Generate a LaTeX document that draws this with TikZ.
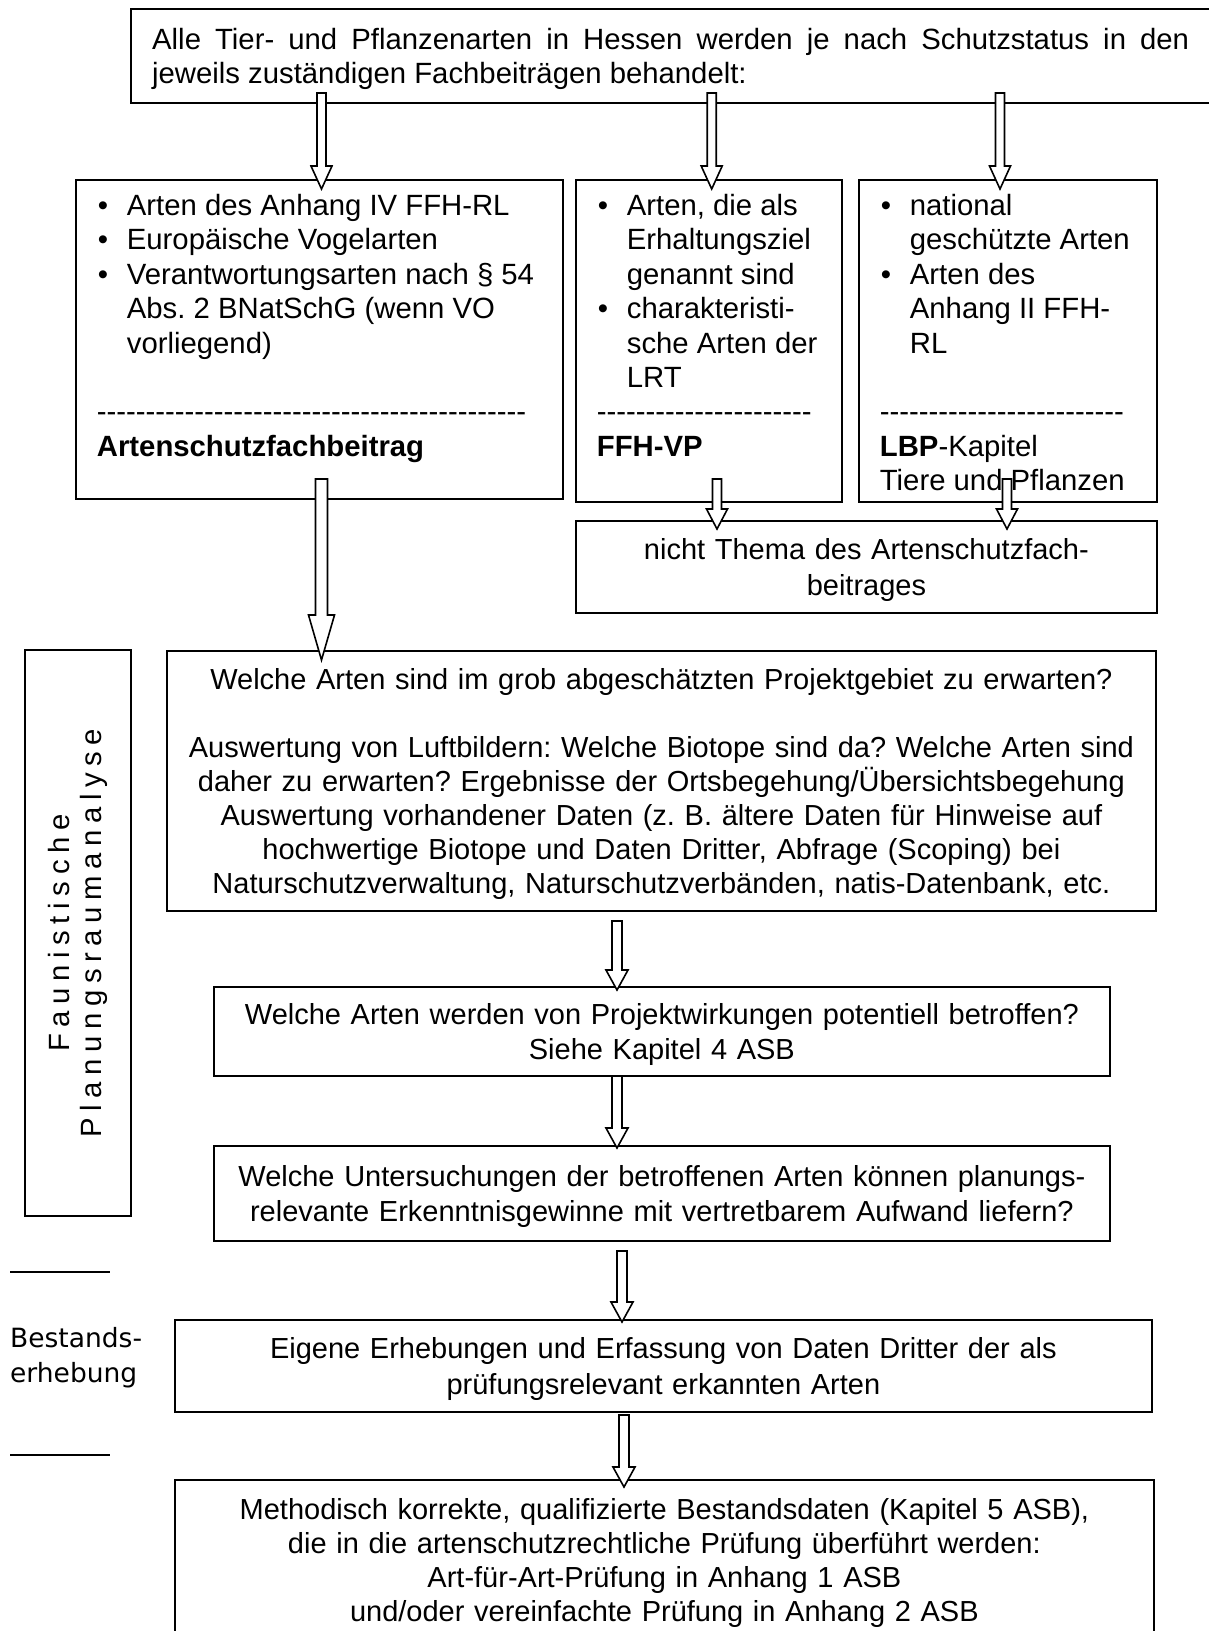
\documentclass[tikz,border=0pt]{standalone}
\usepackage{fontspec}
\setmainfont{Liberation Sans}
\newfontfamily\hyfont{Liberation Sans}
\newfontfamily\spacedfont{Liberation Sans}[LetterSpace=22.5]
\newfontfamily\dvfont{DejaVu Sans}
\usetikzlibrary{calc}
\frenchspacing
\newcommand\vs{\rule[-6.7pt]{0pt}{34.4pt}}
\newcommand\blt[1]{\noindent\vs\hspace*{22pt}\makebox[29pt][l]{\textbullet}#1\par}
\newcommand\ind[1]{\noindent\vs\hspace*{51pt}#1\par}
\newcommand\pln[1]{\noindent\vs\hspace*{21pt}#1\par}
\newcommand\emptyln{\noindent\vs\par}
\newcommand\colbox[3]{\begin{minipage}[c][#2][t]{#1}\vspace*{7.8pt}#3\end{minipage}}
\newcommand\blockarrow[5]{%
  \draw[arrowline] let \p1=(#1), \p2=(#2) in
   (\x1-#3,\y1) -- (\x1+#3,\y1) -- (\x1+#3,\y2+#5) -- (\x1+#4,\y2+#5) --
   (\x1,\y2) -- (\x1-#4,\y2+#5) -- (\x1-#3,\y2+#5) -- cycle;}
\begin{document}
\begin{tikzpicture}[x=1pt,y=-1pt,
  font=\fontsize{29.3pt}{34.4pt}\selectfont\frenchspacing,
  tbox/.style={draw, line width=2.4pt, inner ysep=0pt, inner xsep=21pt, anchor=north west},
  lbox/.style={draw, line width=1.8pt, inner sep=0pt, anchor=north west},
  cbox/.style={draw, line width=1.8pt, inner sep=0pt, align=center, anchor=north west,
    font=\fontsize{29pt}{33.9pt}\selectfont\frenchspacing},
  arrowline/.style={draw, fill=white, line width=1.6pt, line join=miter}]
\useasboundingbox (0,0) rectangle (1208,1631);

% top box
\node[tbox, text width=1037pt, align=justify, minimum height=94pt] (top) at (130,8)
  {\vs Alle Tier- und Pflanzenarten in Hessen werden je nach Schutzstatus in den\linebreak
   jeweils zuständigen Fachbeiträgen behandelt:\vs};

% three columns
\node[lbox] (A) at (75,179) {\colbox{487pt}{319pt}{%
  \blt{Arten des Anhang IV FFH-RL}%
  \blt{Europäische Vogelarten}%
  \blt{Verantwortungsarten nach § 54}%
  \ind{Abs. 2 BNatSchG (wenn VO}%
  \ind{vorliegend)}%
  \emptyln
  \pln{{\hyfont --------------------------------------------}}%
  \pln{\textbf{Artenschutzfachbeitrag}}}};

\node[lbox] (B) at (575,179) {\colbox{266pt}{322pt}{%
  \blt{Arten, die als}%
  \ind{Erhaltungsziel}%
  \ind{genannt sind}%
  \blt{charakteristi-}%
  \ind{sche Arten der}%
  \ind{LRT}%
  \pln{{\hyfont ----------------------}}%
  \pln{\textbf{FFH-VP}}}};

\node[lbox] (C) at (858,179) {\colbox{298pt}{322pt}{%
  \blt{national}%
  \ind{geschützte Arten}%
  \blt{Arten des}%
  \ind{Anhang II FFH-}%
  \ind{RL}%
  \emptyln
  \pln{{\hyfont -------------------------}}%
  \pln{\textbf{LBP}-Kapitel}%
  \pln{Tiere und Pflanzen}}};

\node[cbox, text width=581pt, minimum height=92pt] (D) at (575,520)
  {\vs nicht Thema des Artenschutzfach-\\beitrages\vs};

% left side
\node[draw, line width=1.8pt, rotate=90, minimum width=566pt, minimum height=106pt,
  inner sep=0pt, align=center, font=\spacedfont\fontsize{29.3pt}{32pt}\selectfont] (fau) at (78,933)
  {Faunistische\\Planungsraumanalyse};

\node[anchor=west, align=left, inner sep=0pt, font=\dvfont\fontsize{26.5pt}{35pt}\selectfont] (best) at (10,1358)
  {Bestands-\\erhebung};
\draw[line width=1.2pt] (10,1272) -- (110,1272);
\draw[line width=1.2pt] (10,1455) -- (110,1455);

% flow boxes
\node[cbox, text width=989pt, minimum height=260pt] (E) at (166,650)
  {\vs Welche Arten sind im grob abgeschätzten Projektgebiet zu erwarten?\\[33.9pt]
   Auswertung von Luftbildern: Welche Biotope sind da? Welche Arten sind\\
   daher zu erwarten? Ergebnisse der Ortsbegehung/Übersichtsbegehung\\
   Auswertung vorhandener Daten (z. B. ältere Daten für Hinweise auf\\
   hochwertige Biotope und Daten Dritter, Abfrage (Scoping) bei\\
   Naturschutzverwaltung, Naturschutzverbänden, natis-Datenbank, etc.\vs};

\node[cbox, text width=896pt, minimum height=89pt] (F) at (213,986)
  {\vs Welche Arten werden von Projektwirkungen potentiell betroffen?\\
   Siehe Kapitel 4 ASB\vs};

\node[cbox, text width=896pt, minimum height=95pt] (G) at (213,1145)
  {\vs Welche Untersuchungen der betroffenen Arten können planungs-\\
   relevante Erkenntnisgewinne mit vertretbarem Aufwand liefern?\vs};

\node[cbox, text width=977pt, minimum height=92pt] (H) at (174,1319)
  {\vs Eigene Erhebungen und Erfassung von Daten Dritter der als\\
   prüfungsrelevant erkannten Arten\vs};

\node[cbox, text width=979pt, minimum height=160pt] (I) at (174,1479)
  {\vs Methodisch korrekte, qualifizierte Bestandsdaten (Kapitel 5 ASB),\\
   die in die artenschutzrechtliche Prüfung überführt werden:\\
   Art-für-Art-Prüfung in Anhang 1 ASB\\
   und/oder vereinfachte Prüfung in Anhang 2 ASB\vs};

% arrow end points
\coordinate (t1s) at (321.5,93);  \coordinate (t1e) at (321.5,189);
\coordinate (t2s) at (711.7,93);  \coordinate (t2e) at (711.7,189);
\coordinate (t3s) at (1000,93);   \coordinate (t3e) at (1000,189);
\coordinate (bs) at (717,479);    \coordinate (be) at (717,529);
\coordinate (cs) at (1007,479);   \coordinate (ce) at (1007,529);
\coordinate (as) at (321.5,479);  \coordinate (ae) at (321.5,660);
\coordinate (es) at (617,921);    \coordinate (ee) at (617,990);
\coordinate (fs) at (617,1076);   \coordinate (fe) at (617,1148);
\coordinate (gs) at (622,1251);   \coordinate (ge) at (622,1322);
\coordinate (hs) at (624,1415);   \coordinate (he) at (624,1487);

\blockarrow{t1s}{t1e}{4.5pt}{10.5pt}{23pt}
\blockarrow{t2s}{t2e}{4.5pt}{10.5pt}{23pt}
\blockarrow{t3s}{t3e}{4.5pt}{10.5pt}{23pt}
\blockarrow{bs}{be}{4.5pt}{10.5pt}{20pt}
\blockarrow{cs}{ce}{4.5pt}{10.5pt}{20pt}
\blockarrow{as}{ae}{6pt}{13pt}{45pt}
\blockarrow{es}{ee}{5pt}{11pt}{20pt}
\blockarrow{fs}{fe}{5pt}{11pt}{20pt}
\blockarrow{gs}{ge}{5pt}{11pt}{20pt}
\blockarrow{hs}{he}{5pt}{11pt}{20pt}
\end{tikzpicture}
\end{document}
